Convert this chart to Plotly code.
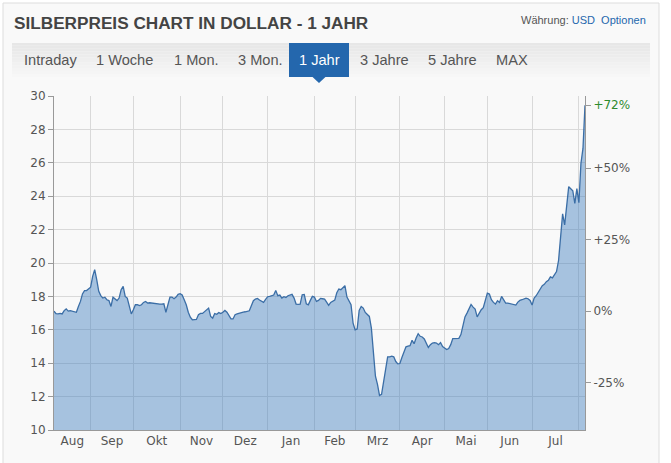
import pandas as pd
import plotly.graph_objects as go

# ---------------- data ----------------
START_DATE = "2019-08-07"
MONTHS_DE = ["Aug", "Sep", "Okt", "Nov", "Dez", "Jan", "Feb", "Mrz", "Apr", "Mai", "Jun", "Jul"]
PRICES = [
    17.12, 16.97, 16.95, 16.98, 16.95, 17.15, 17.25, 17.12, 17.15, 17.12,
    17.10, 17.05, 17.40, 17.70, 18.15, 18.35, 18.35, 18.45, 18.55, 19.20,
    19.60, 19.00, 18.30, 18.05, 17.90, 17.95, 17.80, 17.75, 17.40, 17.95,
    17.85, 17.75, 17.90, 18.40, 18.60, 18.00, 17.90, 17.50, 16.95, 17.20,
    17.50, 17.50, 17.45, 17.50, 17.64, 17.70, 17.60, 17.62, 17.60, 17.56,
    17.54, 17.56, 17.54, 17.54, 17.56, 17.05, 17.60, 17.96, 17.96, 17.86,
    17.96, 18.12, 18.16, 18.08, 17.80, 17.50, 17.05, 16.75, 16.60, 16.60,
    16.62, 16.90, 16.98, 16.98, 17.08, 17.18, 17.30, 16.80, 16.70, 16.97,
    16.93, 17.03, 16.97, 17.05, 17.16, 17.05, 16.80, 16.65, 16.65, 16.90,
    16.95, 17.00, 17.04, 17.06, 17.08, 17.10, 17.14, 17.44, 17.74, 17.84,
    17.88, 17.78, 17.70, 17.64, 17.82, 17.98, 18.00, 18.04, 18.08, 18.36,
    18.04, 18.08, 17.90, 17.98, 17.94, 18.04, 18.10, 18.12, 17.90, 17.54,
    17.52, 17.54, 18.10, 18.12, 17.56, 17.50, 17.76, 18.00, 17.96, 17.70,
    17.76, 17.88, 17.86, 17.84, 17.66, 17.46, 17.64, 17.72, 17.78, 18.22,
    18.44, 18.40, 18.54, 18.64, 17.96, 17.74, 17.50, 16.40, 16.00, 16.05,
    17.16, 17.40, 17.30, 17.04, 16.92, 16.80, 16.10, 14.82, 13.22, 12.73,
    12.07, 12.13, 12.93, 13.82, 14.38, 14.38, 14.42, 14.38, 14.10, 13.96,
    13.98, 14.34, 14.66, 14.98, 15.02, 15.05, 15.37, 15.17, 15.51, 15.77,
    15.61, 15.57, 15.45, 15.21, 14.94, 15.11, 15.21, 15.23, 15.21, 15.11,
    15.23, 15.00, 14.90, 14.82, 14.88, 15.11, 15.47, 15.47, 15.51, 15.49,
    15.71, 16.25, 16.77, 17.00, 17.24, 17.52, 17.36, 17.24, 16.77, 17.04,
    17.20, 17.32, 17.76, 18.20, 18.14, 17.80, 17.64, 17.54, 17.74, 17.64,
    18.00, 17.76, 17.60, 17.60, 17.56, 17.54, 17.48, 17.48, 17.66, 17.76,
    17.80, 17.86, 17.90, 17.86, 17.76, 17.48, 17.90, 18.04, 18.26, 18.40,
    18.64, 18.72, 18.88, 18.96, 19.17, 19.11, 19.29, 19.49, 20.15, 21.52,
    22.94, 22.28, 23.41, 24.57, 24.45, 24.33, 23.57, 24.45, 23.61, 25.96,
    26.86, 29.45,
]
LEFT_TICKS = list(range(10, 31, 2))
PCT_TICKS = [-25, 0, 25, 50]
TABS = ["Intraday", "1 Woche", "1 Mon.", "3 Mon.", "1 Jahr", "3 Jahre", "5 Jahre", "MAX"]
ACTIVE_TAB = "1 Jahr"

# ---------------- derived ----------------
dates = pd.bdate_range(START_DATE, periods=len(PRICES))
months = dates.to_period("M")
month_starts = [i for i in range(1, len(dates)) if months[i] != months[i - 1]]
grid_dates = [dates[i] for i in month_starts]
bounds = [0] + month_starts
label_pos = []
for k in range(len(MONTHS_DE)):
    c = (bounds[k] + bounds[k + 1]) / 2.0
    base = int(c)
    label_pos.append(dates[base] + pd.Timedelta(days=c - base))

base_price = PRICES[0]
last_pct = round((PRICES[-1] / base_price - 1) * 100)
pct_vals = [base_price * (1 + p / 100) for p in PCT_TICKS] + [PRICES[-1]]
pct_text = [("+%d%%" % p if p > 0 else "%d%%" % p) for p in PCT_TICKS] + \
    ["<span style='color:#2e8b2e'>+%d%%</span>" % last_pct]

# ---------------- layout geometry ----------------
W, H = 671, 463
ML, MR, MT, MB = 54, 86, 96, 33
PW, PH = W - ML - MR, H - MT - MB


def px(x):
    return (x - ML) / PW


def py(y):
    return (H - MB - y) / PH


AXIS_FONT = dict(family="DejaVu Sans, Verdana, sans-serif", size=12, color="#555555")

fig = go.Figure()
fig.add_trace(go.Scatter(
    x=dates, y=PRICES, mode="lines",
    line=dict(color="#3b6ea6", width=1.3),
    fill="tozeroy", fillcolor="rgba(64,126,190,0.45)",
    hoverinfo="skip", showlegend=False,
))
fig.add_trace(go.Scatter(
    x=[dates[0]], y=[PRICES[0]], yaxis="y2", mode="markers",
    marker=dict(opacity=0), hoverinfo="skip", showlegend=False,
))

shapes = []
# outer box
shapes.append(dict(type="rect", xref="paper", yref="paper", x0=px(3), x1=px(659), y0=py(470), y1=py(3),
                   fillcolor="#f9f9f9", line=dict(color="#dddddd", width=1), layer="below"))
# tab bar gradient
top, bot = 43, 77
n = 12
c0, c1 = (231, 231, 231), (247, 247, 247)
for i in range(n):
    t = i / (n - 1)
    col = "rgb(%d,%d,%d)" % tuple(int(c0[j] + (c1[j] - c0[j]) * t) for j in range(3))
    y0 = top + (bot - top) * i / n
    y1 = top + (bot - top) * (i + 1) / n
    shapes.append(dict(type="rect", xref="paper", yref="paper", x0=px(12), x1=px(650),
                       y0=py(y1), y1=py(y0), fillcolor=col, line=dict(width=0), layer="below"))
# active tab
shapes.append(dict(type="rect", xref="paper", yref="paper", x0=px(289), x1=px(349), y0=py(bot), y1=py(top),
                   fillcolor="#2467ad", line=dict(width=0), layer="above"))
shapes.append(dict(type="path", xref="paper", yref="paper",
                   path="M %f,%f L %f,%f L %f,%f Z" % (px(312), py(bot - 0.5), px(326), py(bot - 0.5), px(319), py(bot + 6)),
                   fillcolor="#2467ad", line=dict(width=0), layer="above"))

annotations = []
annotations.append(dict(xref="paper", yref="paper", x=px(12), y=py(23), xanchor="left", yanchor="middle",
                        text="<b>SILBERPREIS CHART IN DOLLAR - 1 JAHR</b>", showarrow=False,
                        font=dict(family="Liberation Sans, Arial, sans-serif", size=17.2, color="#444444")))
annotations.append(dict(xref="paper", yref="paper", x=px(648), y=py(20), xanchor="right", yanchor="middle",
                        text="Währung: <span style='color:#2467ad'>USD</span>  <span style='color:#2467ad'>Optionen</span>",
                        showarrow=False,
                        font=dict(family="Liberation Sans, Arial, sans-serif", size=11, color="#555555")))
tab_x = [22, 94, 172, 236, 297, 358, 426, 494]
for name, x in zip(TABS, tab_x):
    active = name == ACTIVE_TAB
    annotations.append(dict(xref="paper", yref="paper", x=px(x), y=py(60), xanchor="left", yanchor="middle",
                            text=name, showarrow=False,
                            font=dict(family="Liberation Sans, Arial, sans-serif", size=14.6,
                                      color="#ffffff" if active else "#555555")))

fig.update_layout(
    width=W, height=H,
    margin=dict(l=ML, r=MR, t=MT, b=MB, pad=0),
    paper_bgcolor="#ffffff", plot_bgcolor="#f9f9f9",
    showlegend=False,
    shapes=shapes, annotations=annotations,
    xaxis=dict(
        type="date", range=[dates[0], dates[-1]],
        rangebreaks=[dict(bounds=["sat", "mon"])],
        tickmode="array", tickvals=label_pos, ticktext=MONTHS_DE,
        showgrid=False, ticks="", tickfont=AXIS_FONT,
        showline=True, linecolor="#999999", linewidth=1,
        zeroline=False,
        minor=dict(tickmode="array", tickvals=grid_dates, showgrid=True,
                   gridcolor="#d9d9d9", gridwidth=1, ticks=""),
    ),
    yaxis=dict(
        range=[10, 30], tickmode="array", tickvals=LEFT_TICKS,
        showgrid=True, gridcolor="#d9d9d9", gridwidth=1,
        showline=True, linecolor="#999999", linewidth=1,
        ticks="outside", ticklen=5, tickcolor="#999999",
        tickfont=AXIS_FONT, zeroline=False,
    ),
    yaxis2=dict(
        overlaying="y", side="right", range=[10, 30],
        tickmode="array", tickvals=pct_vals, ticktext=pct_text,
        showgrid=False, showline=True, linecolor="#999999", linewidth=1,
        ticks="outside", ticklen=5, tickcolor="#999999",
        tickfont=AXIS_FONT, zeroline=False,
    ),
)

fig.write_html("out.html", config={"displayModeBar": False},
               post_script="document.body.style.margin='0';document.body.style.overflow='hidden';")
